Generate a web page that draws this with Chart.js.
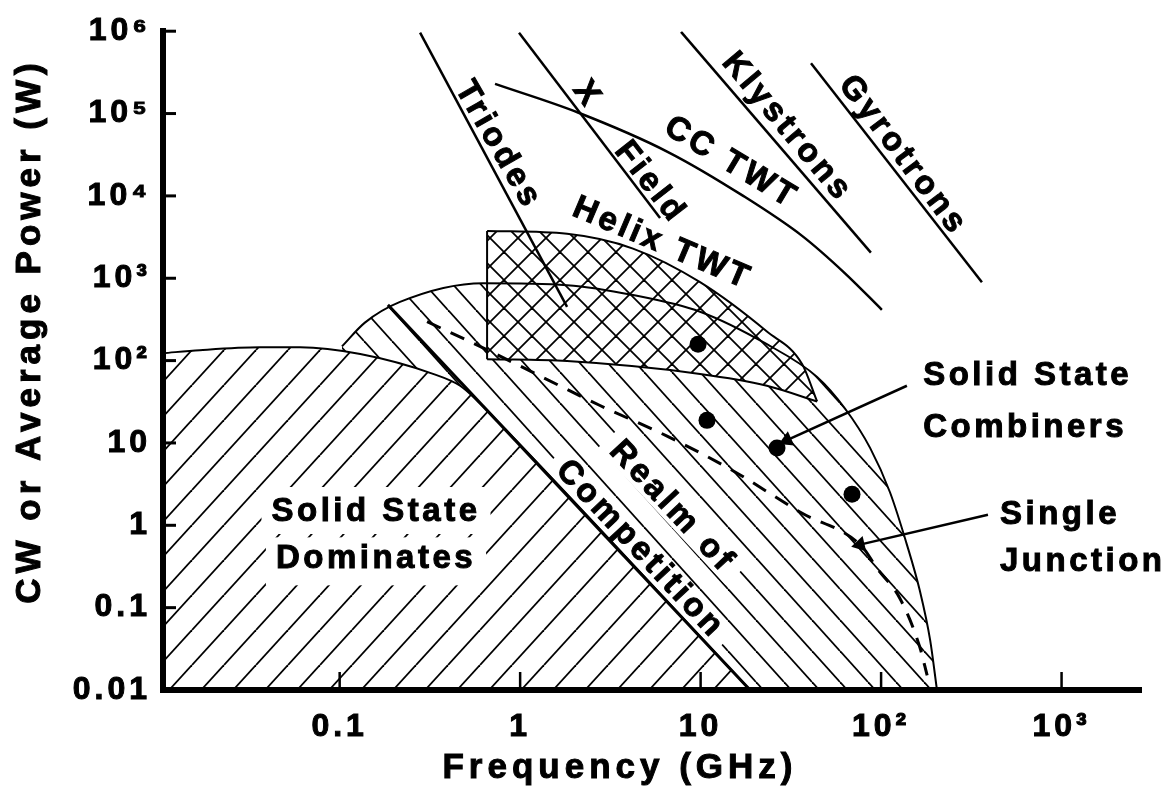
<!DOCTYPE html>
<html>
<head>
<meta charset="utf-8">
<title>CW power vs frequency</title>
<script src="https://cdn.jsdelivr.net/npm/chart.js@4.4.1/dist/chart.umd.min.js"></script>
<style>
  html, body { margin: 0; padding: 0; background: #fff; }
  #powerChart { display: block; }
</style>
</head>
<body>
<canvas id="powerChart" width="1163" height="792"></canvas>
<script>
// axis ticks
const xTickValues = [0.1, 1, 10, 100, 1000];
const xTickLabels = ["0.1", "1", "10", "10²", "10³"];
const yTickValues = [0.01, 0.1, 1, 10, 100, 1e3, 1e4, 1e5, 1e6];
const yTickLabels = ["0.01", "0.1", "1", "10", "10²", "10³", "10⁴", "10⁵", "10⁶"];

// all series are [frequency GHz, power W]
const solidStateEdge = [[0.0105, 123], [0.0168, 134], [0.0362, 145], [0.0603, 145], [0.130, 120], [0.329, 69], [0.465, 49.5], [0.584, 31.9], [0.774, 17.1], [18.8, 0.01]];
const competitionEdge = [[0.185, 475], [18.8, 0.01]];
const combinerEnvelope = [[0.103, 149], [0.138, 289], [0.216, 516], [0.623, 871], [1.82, 824], [4.22, 625], [9.93, 392], [23.3, 158], [44.2, 63.4], [63.1, 26.2], [86.9, 8.71], [112, 2.52], [139, 0.583], [164, 0.16], [187, 0.0403], [204, 0.01]];
const helixTop = [[0.656, 3760], [1.82, 3460], [4.22, 2290], [9.93, 895], [23.3, 225], [36.5, 90.8], [44.2, 31.9]];
const helixBottom = [[0.656, 104], [1.82, 98.6], [9.93, 68.9], [23.3, 49.5], [44.2, 31.9]];
const singleJunction = [[0.305, 297], [0.681, 130], [1.29, 65], [2.77, 28.5], [6.52, 12.1], [15.1, 4.6], [35.5, 1.45], [78.4, 0.55], [95, 0.30], [127, 0.13], [164, 0.033], [180, 0.015]];
const combinerPoints = [[9.68, 158], [10.85, 18.8], [26.5, 8.71], [69.0, 2.38]];
const triodes = [[0.279, 9.6e5], [1.82, 450]];
const crossedField = [[0.986, 9.6e5], [5.96, 5380]];
const ccTwt = [[0.726, 229000], [2.09, 103000], [6.60, 34100], [17.4, 9860], [36.5, 3270], [63.1, 1148], [101, 414]];
const klystrons = [[7.79, 9.8e5], [87.8, 2050]];
const gyrotrons = [[40.9, 408000], [362, 895]];
const combinerArrow = [[139, 49.5], [30.1, 10.8]];
const junctionArrow = [[391, 1.34], [76.4, 0.583]];

// text placed on the plot, anchored in data units
const notes = [
    { text: "Triodes", x: 0.754, y: 41400, angle: 60 },
    { text: "X", x: 2.35, y: 169000, angle: 55 },
    { text: "Field", x: 5.25, y: 14500, angle: 52 },
    { text: "CC TWT", x: 14.75, y: 25200, angle: 31 },
    { text: "Klystrons", x: 30.1, y: 68000, angle: 50 },
    { text: "Gyrotrons", x: 132, y: 31000, angle: 53 },
    { text: "Helix TWT", x: 6.12, y: 2620, angle: 23 },
    { text: "Realm of", x: 6.94, y: 1.67, angle: 47, clear: [10, 25, 14] },
    { text: "Competition", x: 4.62, y: 0.509, angle: 47, clear: [10, 14, 14] },
    { text: "Solid State", x: 0.159, y: 1.45, clear: [10, 25, 22] },
    { text: "Dominates", x: 0.159, y: 0.386, clear: [10, 22, 26] },
    { text: "Solid State", x: 171, y: 65.2, align: "left" },
    { text: "Combiners", x: 171, y: 15.1, align: "left" },
    { text: "Single", x: 456, y: 1.34, align: "left" },
    { text: "Junction", x: 456, y: 0.356, align: "left" },
];

const FONT = '"Liberation Sans", Helvetica, Arial, sans-serif';
const noteFont = "bold 33px " + FONT;

function pts(list) {
    return list.map(([x, y]) => ({ x, y }));
}

// repeating hatch tile; "fwd" = /, "back" = \
function hatch(w, h, kinds, opaque) {
    const c = document.createElement("canvas");
    c.width = w;
    c.height = h;
    const g = c.getContext("2d");
    if (opaque) {
        g.fillStyle = "#fff";
        g.fillRect(0, 0, w, h);
    }
    g.strokeStyle = "#000";
    g.lineWidth = 1.8;
    kinds.forEach((k) => {
        for (let o = -w; o <= w; o += w) {
            g.beginPath();
            if (k === "fwd") {
                g.moveTo(o, h);
                g.lineTo(o + w, 0);
            } else {
                g.moveTo(o, 0);
                g.lineTo(o + w, h);
            }
            g.stroke();
        }
    });
    return g.createPattern(c, "repeat");
}

function line(data, extra) {
    return Object.assign(
        {
            data: pts(data),
            borderColor: "#000",
            borderWidth: 2.5,
            pointRadius: 0,
            fill: false,
            order: 0,
        },
        extra
    );
}

function arrowAngle(ctx) {
    const d = ctx.chart.data.datasets[ctx.datasetIndex].data;
    const { x, y } = ctx.chart.scales;
    const dx = x.getPixelForValue(d[1].x) - x.getPixelForValue(d[0].x);
    const dy = y.getPixelForValue(d[1].y) - y.getPixelForValue(d[0].y);
    return (Math.atan2(dx, -dy) * 180) / Math.PI;
}

function notePixel(chart, n) {
    return {
        x: chart.scales.x.getPixelForValue(n.x),
        y: chart.scales.y.getPixelForValue(n.y),
    };
}

// heavy lettering: fill plus a thin outline
function boldText(ctx, text, x, y) {
    ctx.fillText(text, x, y);
    ctx.strokeText(text, x, y);
}

const notesPlugin = {
    id: "notes",
    beforeDraw(chart) {
        chart.ctx.letterSpacing = "4px";
    },
    // white boxes behind the labels that sit on hatching
    beforeDatasetsDraw(chart) {
        const ctx = chart.ctx;
        ctx.save();
        ctx.font = noteFont;
        ctx.letterSpacing = "3.5px";
        ctx.fillStyle = "#fff";
        notes.forEach((n) => {
            if (!n.clear) return;
            const p = notePixel(chart, n);
            const w = ctx.measureText(n.text).width;
            const [padX, padTop, padBottom] = n.clear;
            ctx.save();
            ctx.translate(p.x, p.y);
            ctx.rotate(((n.angle || 0) * Math.PI) / 180);
            ctx.fillRect(-w / 2 - padX, -padTop, w + 2 * padX, padTop + padBottom);
            ctx.restore();
        });
        ctx.restore();
    },
    afterDatasetsDraw(chart) {
        const { ctx, chartArea: a, scales } = chart;
        ctx.save();
        ctx.font = noteFont;
        ctx.letterSpacing = "3.5px";
        ctx.fillStyle = "#000";
        ctx.strokeStyle = "#000";
        ctx.lineWidth = 1;
        ctx.textBaseline = "middle";
        notes.forEach((n) => {
            const p = notePixel(chart, n);
            ctx.save();
            ctx.translate(p.x, p.y);
            ctx.rotate(((n.angle || 0) * Math.PI) / 180);
            ctx.textAlign = n.align || "center";
            boldText(ctx, n.text, 0, 0);
            ctx.restore();
        });

        // tick marks point into the plot
        ctx.lineWidth = 3;
        yTickValues.forEach((v) => {
            const py = scales.y.getPixelForValue(v);
            ctx.beginPath();
            ctx.moveTo(a.left, py);
            ctx.lineTo(a.left + 13, py);
            ctx.stroke();
        });
        ctx.lineWidth = 2.5;
        xTickValues.forEach((v) => {
            const px = scales.x.getPixelForValue(v);
            ctx.beginPath();
            ctx.moveTo(px, a.bottom);
            ctx.lineTo(px, a.bottom - 18);
            ctx.stroke();
        });
        ctx.restore();
    },
    afterDraw(chart) {
        const ctx = chart.ctx;
        ctx.save();
        ctx.fillStyle = "#000";
        ctx.strokeStyle = "#000";
        ctx.lineWidth = 1;
        ctx.font = "bold 35px " + FONT;
        ctx.letterSpacing = "5px";
        ctx.textAlign = "center";
        ctx.textBaseline = "middle";
        boldText(ctx, "Frequency (GHz)", 620, 768);
        ctx.translate(30, 331);
        ctx.rotate(-Math.PI / 2);
        boldText(ctx, "CW or Average Power (W)", 0, 0);
        ctx.restore();
    },
};

const canvas = document.getElementById("powerChart");
const ctx = canvas.getContext("2d");

const backHatch = hatch(28, 31, ["back"], false);
const fwdHatch = hatch(32, 35, ["fwd"], true);
const crossHatch = hatch(28, 28, ["fwd", "back"], true);

const tickFont = { family: FONT, size: 32, weight: "bold" };

new Chart(ctx, {
    type: "line",
    data: {
        datasets: [
            line(combinerEnvelope, { fill: "start", backgroundColor: backHatch, borderWidth: 2, cubicInterpolationMode: "monotone", order: 3 }),
            line(solidStateEdge, { fill: "start", backgroundColor: fwdHatch, borderWidth: 2, cubicInterpolationMode: "monotone", order: 2 }),
            line(helixTop, { fill: "+1", backgroundColor: crossHatch, borderWidth: 2, cubicInterpolationMode: "monotone", order: 1 }),
            line(helixBottom, { borderWidth: 2, cubicInterpolationMode: "monotone" }),
            line([helixBottom[0], helixTop[0]], { borderWidth: 2 }),
            line(competitionEdge, { borderWidth: 3 }),
            line(singleJunction, { borderWidth: 3, borderDash: [15, 11], cubicInterpolationMode: "monotone" }),
            line(combinerPoints, { showLine: false, pointRadius: 8.5, pointBackgroundColor: "#000", pointBorderWidth: 0 }),
            line(triodes),
            line(crossedField),
            line(ccTwt, { cubicInterpolationMode: "monotone" }),
            line(klystrons),
            line(gyrotrons),
            line(combinerArrow, { pointRadius: [0, 9], pointStyle: "triangle", pointBackgroundColor: "#000", pointBorderWidth: 0, rotation: arrowAngle }),
            line(junctionArrow, { pointRadius: [0, 9], pointStyle: "triangle", pointBackgroundColor: "#000", pointBorderWidth: 0, rotation: arrowAngle }),
        ],
    },
    options: {
        responsive: false,
        animation: false,
        devicePixelRatio: 1,
        events: [],
        layout: { padding: { top: 22, right: 22, left: 0, bottom: 0 } },
        plugins: {
            legend: { display: false },
            tooltip: { enabled: false },
            filler: { drawTime: "beforeDatasetsDraw" },
        },
        scales: {
            x: {
                type: "logarithmic",
                min: 0.0105,
                max: 2755,
                afterBuildTicks: (s) => {
                    s.ticks = xTickValues.map((v) => ({ value: v }));
                },
                afterFit: (s) => {
                    s.height = 102;
                },
                ticks: {
                    callback: (v) => xTickLabels[xTickValues.indexOf(v)],
                    font: tickFont,
                    color: "#000",
                    textStrokeColor: "#000",
                    textStrokeWidth: 1,
                    padding: 18,
                    maxRotation: 0,
                    autoSkip: false,
                },
                grid: { display: false, drawTicks: false },
                border: { display: true, color: "#000", width: 6, z: 1 },
            },
            y: {
                type: "logarithmic",
                min: 0.01,
                max: 1e6,
                afterBuildTicks: (s) => {
                    s.ticks = yTickValues.map((v) => ({ value: v }));
                },
                afterFit: (s) => {
                    s.width = 163;
                },
                ticks: {
                    callback: (v) => yTickLabels[yTickValues.indexOf(v)],
                    font: tickFont,
                    color: "#000",
                    textStrokeColor: "#000",
                    textStrokeWidth: 1,
                    padding: 12,
                    autoSkip: false,
                },
                grid: { display: false, drawTicks: false },
                border: { display: true, color: "#000", width: 6, z: 1 },
            },
        },
    },
    plugins: [notesPlugin],
});
</script>
</body>
</html>
